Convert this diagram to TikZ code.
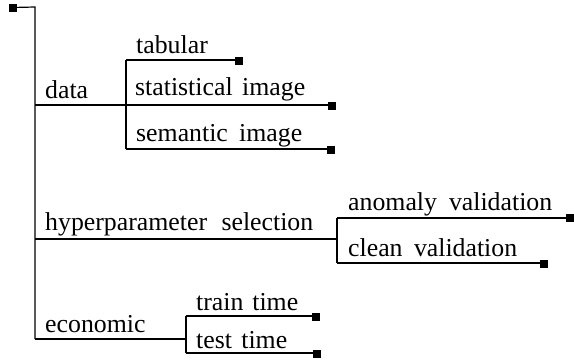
\documentclass[tikz,border=0pt]{standalone}
\usepackage{fontspec}
\setmainfont{Liberation Serif}
\begin{document}
\begin{tikzpicture}[x=1pt,y=-1pt,
  conn/.style={line width=1.2pt, black},
  leaf/.style={rectangle, fill=black, minimum size=8pt, inner sep=0pt, outer sep=0pt},
  lbl/.style={anchor=base west, inner sep=0pt, font=\fontsize{25.8}{30}\selectfont}]
\useasboundingbox (0,0) rectangle (574,362);
% junction coordinates
\coordinate (t0) at (35,7);
\coordinate (t1) at (35,105);
\coordinate (t2) at (35,239);
\coordinate (t3) at (35,339);
\coordinate (d0) at (126,60);
\coordinate (d1) at (126,105);
\coordinate (d2) at (126,149);
\coordinate (h0) at (337,218);
\coordinate (h1) at (337,239);
\coordinate (h2) at (337,263);
\coordinate (e0) at (186,316);
\coordinate (e1) at (186,339);
\coordinate (e2) at (186,353);
% leaf squares
\node[leaf] (root) at (12.5,7.5) {};
\node[leaf] (sqTab) at (239,60.5) {};
\node[leaf] (sqStat) at (331.5,106) {};
\node[leaf] (sqSem) at (331,149.5) {};
\node[leaf] (sqAnom) at (570,217.5) {};
\node[leaf] (sqClean) at (543.5,264) {};
\node[leaf] (sqTrain) at (316,316.5) {};
\node[leaf] (sqTest) at (316.5,353.5) {};
% connectors
\draw[conn] (root.center) -- (t0) -- (t3);
\draw[conn] (t1) -- (d1);
\draw[conn] (t2) -- (h1);
\draw[conn] (t3) -- (e1);
\draw[conn] (d0) -- (d2);
\draw[conn] (h0) -- (h2);
\draw[conn] (e0) -- (e2);
\draw[conn] (d0) -- (d0 -| sqTab.center);
\draw[conn] (d1) -- (d1 -| sqStat.center);
\draw[conn] (d2) -- (d2 -| sqSem.center);
\draw[conn] (h0) -- (h0 -| sqAnom.center);
\draw[conn] (h2) -- (h2 -| sqClean.center);
\draw[conn] (e0) -- (e0 -| sqTrain.center);
\draw[conn] (e2) -- (e2 -| sqTest.center);
% labels
\node[lbl] (data) at (45,98.5) {data};
\node[lbl] (tab) at (136,53.5) {tabular};
\node[lbl] (stat) at (135,95) {\makebox[170pt][s]{statistical image}};
\node[lbl] (sem) at (136,141.7) {\makebox[166pt][s]{semantic image}};
\node[lbl] (hyp) at (45,230.5) {\makebox[268pt][s]{hyperparameter selection}};
\node[lbl] (anom) at (348,210) {\makebox[204pt][s]{anomaly validation}};
\node[lbl] (clean) at (348,256.5) {\makebox[169pt][s]{clean validation}};
\node[lbl] (econ) at (45,332.5) {economic};
\node[lbl] (train) at (196,310.5) {\makebox[102pt][s]{train time}};
\node[lbl] (test) at (196,348) {\makebox[91pt][s]{test time}};
\end{tikzpicture}
\end{document}
